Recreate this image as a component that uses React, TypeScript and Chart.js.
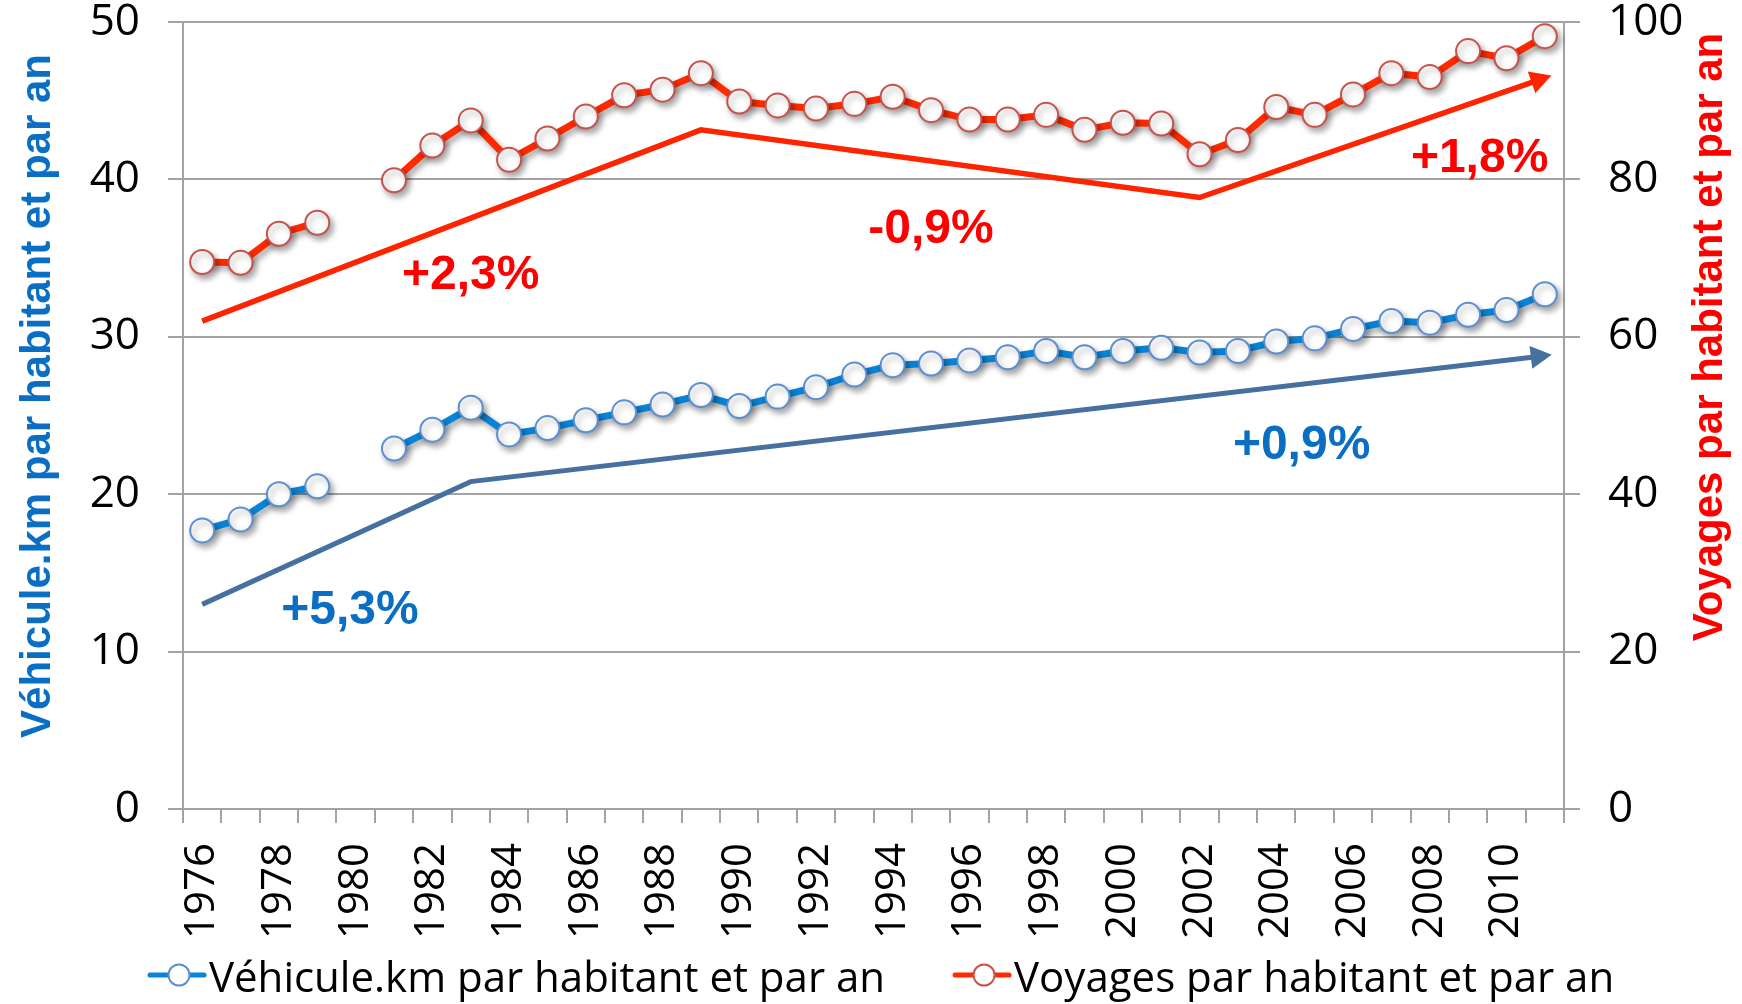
import React, { useEffect, useRef } from 'react';
import { Chart, registerables } from 'chart.js';

Chart.register(...registerables);

const years = [
  '1976', '1977', '1978', '1979', '1980', '1981', '1982', '1983', '1984', '1985',
  '1986', '1987', '1988', '1989', '1990', '1991', '1992', '1993', '1994', '1995',
  '1996', '1997', '1998', '1999', '2000', '2001', '2002', '2003', '2004', '2005',
  '2006', '2007', '2008', '2009', '2010', '2011',
];

// Véhicule.km par habitant et par an (left axis)
const vehiculeKm = [
  17.7, 18.4, 20.0, 20.5, null, 22.9, 24.1, 25.5, 23.8, 24.2,
  24.7, 25.2, 25.7, 26.3, 25.6, 26.2, 26.8, 27.6, 28.2, 28.3,
  28.5, 28.7, 29.1, 28.7, 29.1, 29.3, 29.0, 29.1, 29.7, 29.9,
  30.5, 31.0, 30.9, 31.4, 31.7, 32.7,
];

// Voyages par habitant et par an (right axis)
const voyages = [
  69.5, 69.4, 73.1, 74.5, null, 79.9, 84.3, 87.5, 82.5, 85.2,
  88.0, 90.7, 91.4, 93.5, 89.9, 89.4, 89.0, 89.6, 90.5, 88.8,
  87.6, 87.6, 88.2, 86.3, 87.2, 87.1, 83.2, 85.0, 89.2, 88.2,
  90.8, 93.5, 93.0, 96.3, 95.4, 98.2,
];

const trendVehiculeKm = [
  { x: '1976', y: 13.0 },
  { x: '1983', y: 20.8 },
  { x: '2011', y: 28.8 },
];

const trendVoyages = [
  { x: '1976', y: 62.0 },
  { x: '1989', y: 86.3 },
  { x: '2002', y: 77.7 },
  { x: '2011', y: 92.9 },
];

const RED = '#ff0000';
const BLUE = '#0a6fc4';

const growthLabels = [
  { text: '+2,3%', at: 7.0, value: 67.8, axis: 'y1', color: RED },
  { text: '-0,9%', at: 19.0, value: 73.6, axis: 'y1', color: RED },
  { text: '+1,8%', at: 33.3, value: 82.6, axis: 'y1', color: RED },
  { text: '+5,3%', at: 3.85, value: 12.6, axis: 'y', color: BLUE },
  { text: '+0,9%', at: 28.66, value: 23.05, axis: 'y', color: BLUE },
];

const leftTitle = 'Véhicule.km par habitant et par an';
const rightTitle = 'Voyages par habitant et par an';

const W = 1742;
const H = 1011;
const GRID = '#a3a3a3';

// legend marker: line + open circle, offset to the right inside the image
function makeMarker(line: string, stroke: string) {
  const c = document.createElement('canvas');
  c.width = 130;
  c.height = 36;
  const g = c.getContext('2d')!;
  g.strokeStyle = line;
  g.lineWidth = 5;
  g.lineCap = 'round';
  g.beginPath();
  g.moveTo(72, 13);
  g.lineTo(126, 13);
  g.stroke();
  g.beginPath();
  g.arc(101, 13, 10.5, 0, Math.PI * 2);
  g.fillStyle = '#ffffff';
  g.fill();
  g.lineWidth = 2;
  g.strokeStyle = stroke;
  g.stroke();
  return c;
}

const shadowPlugin = {
  id: 'seriesShadow',
  beforeDatasetDraw(chart: any, args: any) {
    if (args.index > 1) return;
    const ctx = chart.ctx;
    ctx.save();
    ctx.shadowColor = 'rgba(0,0,0,0.35)';
    ctx.shadowBlur = 6;
    ctx.shadowOffsetX = 3;
    ctx.shadowOffsetY = 4;
  },
  afterDatasetDraw(chart: any, args: any) {
    if (args.index > 1) return;
    chart.ctx.restore();
  },
};

const arrowPlugin = {
  id: 'trendArrows',
  afterDatasetDraw(chart: any, args: any) {
    const ds: any = chart.data.datasets[args.index];
    if (!ds.arrow) return;
    const pts = args.meta.data;
    if (pts.length < 2) return;
    const a = pts[pts.length - 2];
    const b = pts[pts.length - 1];
    const dx = b.x - a.x;
    const dy = b.y - a.y;
    const len = Math.hypot(dx, dy);
    const ux = dx / len;
    const uy = dy / len;
    const tipX = b.x + ux * 7;
    const tipY = b.y + uy * 7;
    const baseX = b.x - ux * 14;
    const baseY = b.y - uy * 14;
    const hw = 11.5;
    const ctx = chart.ctx;
    ctx.save();
    ctx.beginPath();
    ctx.moveTo(tipX, tipY);
    ctx.lineTo(baseX - uy * hw, baseY + ux * hw);
    ctx.lineTo(baseX + uy * hw, baseY - ux * hw);
    ctx.closePath();
    ctx.fillStyle = ds.borderColor;
    ctx.fill();
    ctx.restore();
  },
};

const textPlugin = {
  id: 'texts',
  afterDraw(chart: any) {
    const { ctx, chartArea, scales } = chart;
    ctx.save();
    ctx.font = 'bold 48px "Liberation Sans", Arial, sans-serif';
    ctx.textAlign = 'center';
    ctx.textBaseline = 'middle';
    growthLabels.forEach((l) => {
      const x = scales.x.getPixelForValue(l.at);
      const y = scales[l.axis].getPixelForValue(l.value);
      ctx.fillStyle = l.color;
      ctx.fillText(l.text, x, y);
    });

    ctx.font = 'bold 42px "Liberation Sans", Arial, sans-serif';
    ctx.textBaseline = 'alphabetic';
    ctx.textAlign = 'center';

    ctx.save();
    ctx.translate(chartArea.left - 133, chartArea.top + 374);
    ctx.rotate(-Math.PI / 2);
    ctx.fillStyle = '#0a6fc4';
    ctx.fillText(leftTitle, 0, 0);
    ctx.restore();

    ctx.save();
    ctx.translate(chartArea.right + 158, chartArea.top + 315);
    ctx.rotate(-Math.PI / 2);
    ctx.fillStyle = '#ff0000';
    ctx.fillText(rightTitle, 0, 0);
    ctx.restore();

    ctx.restore();
  },
};

export default function App() {
  const ref = useRef<HTMLCanvasElement | null>(null);

  useEffect(() => {
    if (!ref.current) return;
    const markers = [makeMarker('#0a84d6', '#5b8fd4'), makeMarker('#ff2a00', '#c9514c')];
    const tickFont = { family: '"Open Sans", sans-serif', size: 42, lineHeight: 1 };
    const yTickFont = { family: '"Open Sans", sans-serif', size: 44, lineHeight: 1 };
    const noPadV = (s: any) => {
      s.paddingTop = 0;
      s.paddingBottom = 0;
    };

    const chart = new Chart(ref.current, {
      type: 'line',
      data: {
        labels: years,
        datasets: [
          {
            label: 'Véhicule.km par habitant et par an',
            data: vehiculeKm,
            yAxisID: 'y',
            borderColor: '#0a84d6',
            borderWidth: 7,
            pointRadius: 12,
            pointBorderWidth: 2,
            pointBackgroundColor: '#ffffff',
            pointBorderColor: '#5b8fd4',
            tension: 0,
            spanGaps: false,
            order: 1,
          },
          {
            label: 'Voyages par habitant et par an',
            data: voyages,
            yAxisID: 'y1',
            borderColor: '#ff2a00',
            borderWidth: 7,
            pointRadius: 12,
            pointBorderWidth: 2,
            pointBackgroundColor: '#ffffff',
            pointBorderColor: '#c9514c',
            tension: 0,
            spanGaps: false,
            order: 1,
          },
          {
            label: 'trend vkm',
            data: trendVehiculeKm as any,
            yAxisID: 'y',
            borderColor: '#46709f',
            borderWidth: 5,
            pointRadius: 0,
            tension: 0,
            order: 2,
            arrow: true,
          } as any,
          {
            label: 'trend voyages',
            data: trendVoyages as any,
            yAxisID: 'y1',
            borderColor: '#ff2400',
            borderWidth: 5.5,
            pointRadius: 0,
            tension: 0,
            order: 2,
            arrow: true,
          } as any,
        ],
      },
      options: {
        responsive: false,
        animation: false,
        layout: { padding: { left: 80, top: 22, right: 0, bottom: 0 } },
        scales: {
          x: {
            type: 'category',
            offset: true,
            grid: {
              offset: true,
              drawOnChartArea: false,
              drawTicks: true,
              tickLength: 14,
              color: GRID,
              lineWidth: 2,
            },
            border: { display: true, color: GRID, width: 2 },
            ticks: {
              autoSkip: false,
              minRotation: 90,
              maxRotation: 90,
              padding: 20,
              color: '#000',
              font: tickFont,
              callback: (_v: any, i: number) => (i % 2 === 0 ? years[i] : ''),
            },
            afterFit: (s: any) => {
              s.height = 132;
              s.paddingLeft = 0;
              s.paddingRight = 0;
            },
          },
          y: {
            position: 'left',
            min: 0,
            max: 50,
            ticks: { stepSize: 10, padding: 28, color: '#000', font: yTickFont },
            grid: { color: GRID, lineWidth: 2, tickLength: 15 },
            border: { display: true, color: GRID, width: 2 },
            afterFit: (s: any) => {
              s.width = 103;
              noPadV(s);
            },
          },
          y1: {
            position: 'right',
            min: 0,
            max: 100,
            ticks: { stepSize: 20, padding: 28, color: '#000', font: yTickFont },
            grid: { drawOnChartArea: false, color: GRID, lineWidth: 2, tickLength: 16 },
            border: { display: true, color: GRID, width: 2 },
            afterFit: (s: any) => {
              s.width = 178;
              noPadV(s);
            },
          },
        },
        plugins: {
          tooltip: { enabled: false },
          legend: {
            display: true,
            position: 'bottom',
            align: 'start',
            labels: {
              usePointStyle: true,
              pointStyleWidth: 90,
              padding: 18,
              color: '#000',
              font: { family: '"Open Sans", sans-serif', size: 42 },
              generateLabels: (c: any) =>
                [0, 1].map((i) => ({
                  text: c.data.datasets[i].label,
                  pointStyle: markers[i],
                  datasetIndex: i,
                  hidden: false,
                  lineWidth: 0,
                  fillStyle: 'rgba(0,0,0,0)',
                  strokeStyle: 'rgba(0,0,0,0)',
                  fontColor: '#000',
                })),
            },
          },
        },
      } as any,
      plugins: [shadowPlugin, arrowPlugin, textPlugin],
    });

    return () => chart.destroy();
  }, []);

  return (
    <div style={{ position: 'fixed', left: 0, top: 0, width: W, height: H, background: '#fff' }}>
      <canvas ref={ref} width={W} height={H} style={{ display: 'block', width: W, height: H }} />
    </div>
  );
}
